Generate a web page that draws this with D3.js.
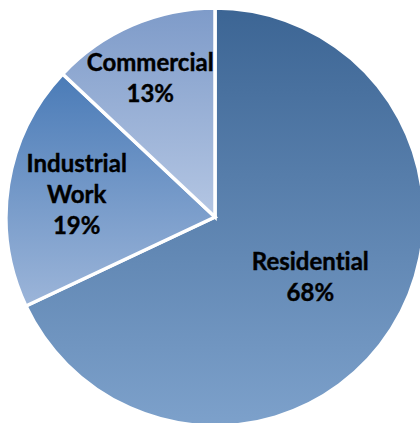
<!DOCTYPE html>
<html>
<head>
<meta charset="utf-8">
<script src="https://cdn.jsdelivr.net/npm/d3@7"></script>
<style>
  body { margin: 0; background: #fff; }
  svg { display: block; }
</style>
</head>
<body>
<div class="container"></div>
<script>
// chart data
const categories = ["Residential", "Industrial Work", "Commercial"];
const shares = [68, 19, 13];
const labelLines = [["Residential", "68%"], ["Industrial", "Work", "19%"], ["Commercial", "13%"]];

// gradient colours per slice (top -> bottom)
const topColors = ["#3c6594", "#4a7bb7", "#7e9bc9"];
const bottomColors = ["#7da1cb", "#9cb5d9", "#b4c6e3"];

const w = 420, h = 423;
const cx = 215, cy = 217, R = 209;
// how far out along the mid-angle each label sits (fraction of radius)
const labelRadius = [0.54, 0.67, 0.72];

const data = categories.map((c, i) => ({ name: c, value: shares[i], i: i }));

const svg = d3.select(".container")
  .append("svg")
  .attr("width", w)
  .attr("height", h);

const defs = svg.append("defs");
data.forEach((d, i) => {
  const g = defs.append("linearGradient")
    .attr("id", "grad" + i)
    .attr("x1", 0).attr("y1", 0)
    .attr("x2", 0).attr("y2", 1);
  g.append("stop").attr("offset", "0%").attr("stop-color", topColors[i]);
  g.append("stop").attr("offset", "100%").attr("stop-color", bottomColors[i]);
});

const pie = d3.pie().sort(null).value(d => d.value);
const arc = d3.arc().innerRadius(0).outerRadius(R);
const arcs = pie(data);

const g = svg.append("g").attr("transform", `translate(${cx},${cy})`);

g.selectAll("path")
  .data(arcs)
  .enter()
  .append("path")
  .attr("d", arc)
  .attr("fill", d => `url(#grad${d.data.i})`)
  .attr("stroke", "#fff")
  .attr("stroke-width", 3.5)
  .attr("stroke-linejoin", "miter");

const lineH = 31;
const labels = g.selectAll("text")
  .data(arcs)
  .enter()
  .append("text")
  .attr("transform", d => {
    const r = R * labelRadius[d.data.i];
    const c = d3.arc().innerRadius(r).outerRadius(r).centroid(d);
    return `translate(${c[0] - (d.data.i === 2 ? 5 : 0)},${c[1]})`;
  })
  .style("font-family", "Lato, 'Open Sans', sans-serif")
  .style("font-weight", "bold")
  .style("font-size", "24px")
  .style("font-variant-ligatures", "none")
  .style("font-feature-settings", "'liga' 0, 'clig' 0")
  .style("fill", "#000")
  .style("stroke", "#000")
  .style("stroke-width", 0.4)
  .style("text-anchor", "middle");

labels.each(function(d) {
  const lines = labelLines[d.data.i];
  const start = -(lines.length - 1) * lineH / 2 + 8;
  d3.select(this).selectAll("tspan")
    .data(lines)
    .enter()
    .append("tspan")
    .attr("x", 0)
    .attr("y", (l, k) => start + k * lineH)
    .text(l => l);
});
</script>
</body>
</html>
